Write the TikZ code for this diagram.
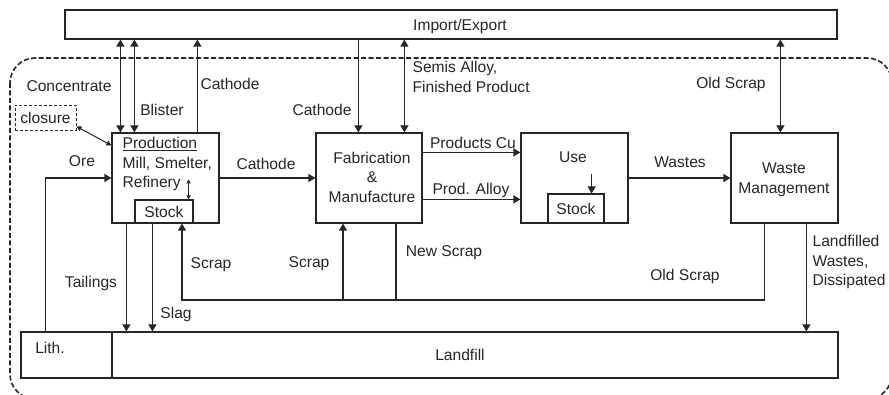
\documentclass[tikz,border=0pt]{standalone}
\usepackage{fontspec}
\setmainfont{Liberation Sans}
\usetikzlibrary{arrows.meta,calc}
\begin{document}
\begin{tikzpicture}[x=1pt,y=-1pt,
  line width=1.2pt, draw=black!85,
  every node/.style={text=black!85, font=\fontsize{15.6}{19.5}\selectfont, inner sep=0pt},
  box/.style={draw, line width=1.2pt},
  lbl/.style={align=center},
  arr/.style={-{Triangle[length=7pt,width=8pt]}},
  darr/.style={{Triangle[length=7pt,width=8pt]}-{Triangle[length=7pt,width=8pt]}},
  sdarr/.style={{Triangle[length=4pt,width=4pt]}-{Triangle[length=4pt,width=4pt]}}]
\useasboundingbox (0,0) rectangle (889,395);
\clip (0,0) rectangle (889,395);
% system boundary
\draw[line width=1.6pt, dash pattern=on 5pt off 2.5pt, rounded corners=25pt] (10,58) rectangle (892,399);
% boxes
\node[box, minimum width=772pt, minimum height=29pt] (ie) at (451,24.5) {};
\node (ietext) at (460,26) {Import/Export};
\node[box, minimum width=107pt, minimum height=90pt] (prod) at (165.5,178) {};
\node[box, minimum width=58pt, minimum height=23pt] (stock1) at (164,211.5) {Stock};
\node[box, minimum width=106pt, minimum height=90pt] (fab) at (369,178) {};
\node (fabtext) at (372,177) [lbl] {Fabrication\\\&\\Manufacture};
\node[box, minimum width=107pt, minimum height=90pt] (use) at (574.5,178) {};
\node (usetext) at (573,157) {Use};
\node[box, minimum width=56pt, minimum height=29pt] (stock2) at (576,208.5) {Stock};
\node[box, minimum width=107pt, minimum height=90pt] (wm) at (784.5,178) {};
\node (wmtext) at (784,180) [lbl] {Waste\\Management};
\node[box, minimum width=91pt, minimum height=46pt] (lith) at (66.5,355) {};
\node[box, minimum width=726pt, minimum height=46pt] (landfill) at (475,355) {};
\node (lithtext) at (50,348) {Lith.};
\node (landtext) at (460,355) {Landfill};
\node[box, dashed, line width=0.9pt, dash pattern=on 3pt off 2pt, minimum width=61pt, minimum height=25pt] (closure) at (45.5,117.5) {closure};
\node[anchor=north west, align=left] (prodtext) at (122,137) {\underline{Production}\\Mill, Smelter,\\Refinery};
% labels
\node (l1) at (69,86) {Concentrate};
\node (l2) at (162,110) {Blister};
\node (l3) at (230,84) {Cathode};
\node (l4) at (266,164) {Cathode};
\node (l5) at (82,161) {Ore};
\node (l6) at (322,110) {Cathode};
\node[anchor=north west, align=left] (l7) at (412,61) {Semis Alloy,\\Finished Product};
\node (l8) at (473,143) {Products Cu};
\node (l9) at (471,190) {Prod. Alloy};
\node (l10) at (680,162) {Wastes};
\node (l11) at (731,84) {Old Scrap};
\node (l12) at (91,283) {Tailings};
\node (l13) at (176,314) {Slag};
\node (l14) at (211,265) {Scrap};
\node (l15) at (309,264) {Scrap};
\node (l16) at (444,253) {New Scrap};
\node (l17) at (685,276) {Old Scrap};
\node[anchor=north west, align=left] (l18) at (812,235) {Landfilled\\Wastes,\\Dissipated};
% connectors to import/export
\draw[darr] ([xshift=9pt]prod.north west) -- ([xshift=9pt]prod.north west |- ie.south);
\draw[darr] ([xshift=23pt]prod.north west) -- ([xshift=23pt]prod.north west |- ie.south);
\draw[arr] ([xshift=86pt]prod.north west) -- ([xshift=86pt]prod.north west |- ie.south);
\draw[arr] ([xshift=43pt]fab.north west |- ie.south) -- ([xshift=43pt]fab.north west);
\draw[darr] ([xshift=89pt]fab.north west) -- ([xshift=89pt]fab.north west |- ie.south);
\draw[darr] ([xshift=50pt]wm.north west) -- ([xshift=50pt]wm.north west |- ie.south);
% closure
\draw[line width=1pt, {Triangle[length=5pt,width=5pt]}-{Triangle[length=5pt,width=5pt]}] ([yshift=4pt]closure.south east) -- ([yshift=-13pt]prod.north west);
% main flow
\draw[arr] ([xshift=25pt]lith.north west) |- (prod.west);
\draw[arr] (prod.east) -- (fab.west);
\draw[arr] ([yshift=-20pt]fab.north east) -- ([yshift=-20pt]fab.north east -| use.west);
\draw[arr] ([yshift=-67pt]fab.north east) -- ([yshift=-67pt]fab.north east -| use.west);
\draw[arr] (use.east) -- (wm.west);
\draw[sdarr, line width=1pt] ([xshift=-5pt,yshift=20pt]stock1.north east) -- ([xshift=-5pt]stock1.north east);
\draw[arr] ([xshift=-13pt,yshift=19pt]stock2.north east) -- ([xshift=-13pt]stock2.north east);
% to landfill
\draw[arr] ([xshift=15pt]prod.south west) -- ([xshift=15pt]prod.south west |- landfill.north);
\draw[arr] ([xshift=18pt]stock1.south west) -- ([xshift=18pt]stock1.south west |- landfill.north);
\draw[arr] ([xshift=76pt]wm.south west) -- ([xshift=76pt]wm.south west |- landfill.north);
% scrap return
\coordinate (rr) at (182,300);
\draw[arr] ([xshift=34pt]wm.south west) |- (rr) -- (rr |- stock1.south);
\coordinate (fs) at (343,300);
\draw[arr] (fs) -- (fs |- fab.south);
\coordinate (ns) at (396,300);
\draw (ns |- fab.south) -- (ns);
\end{tikzpicture}
\end{document}
